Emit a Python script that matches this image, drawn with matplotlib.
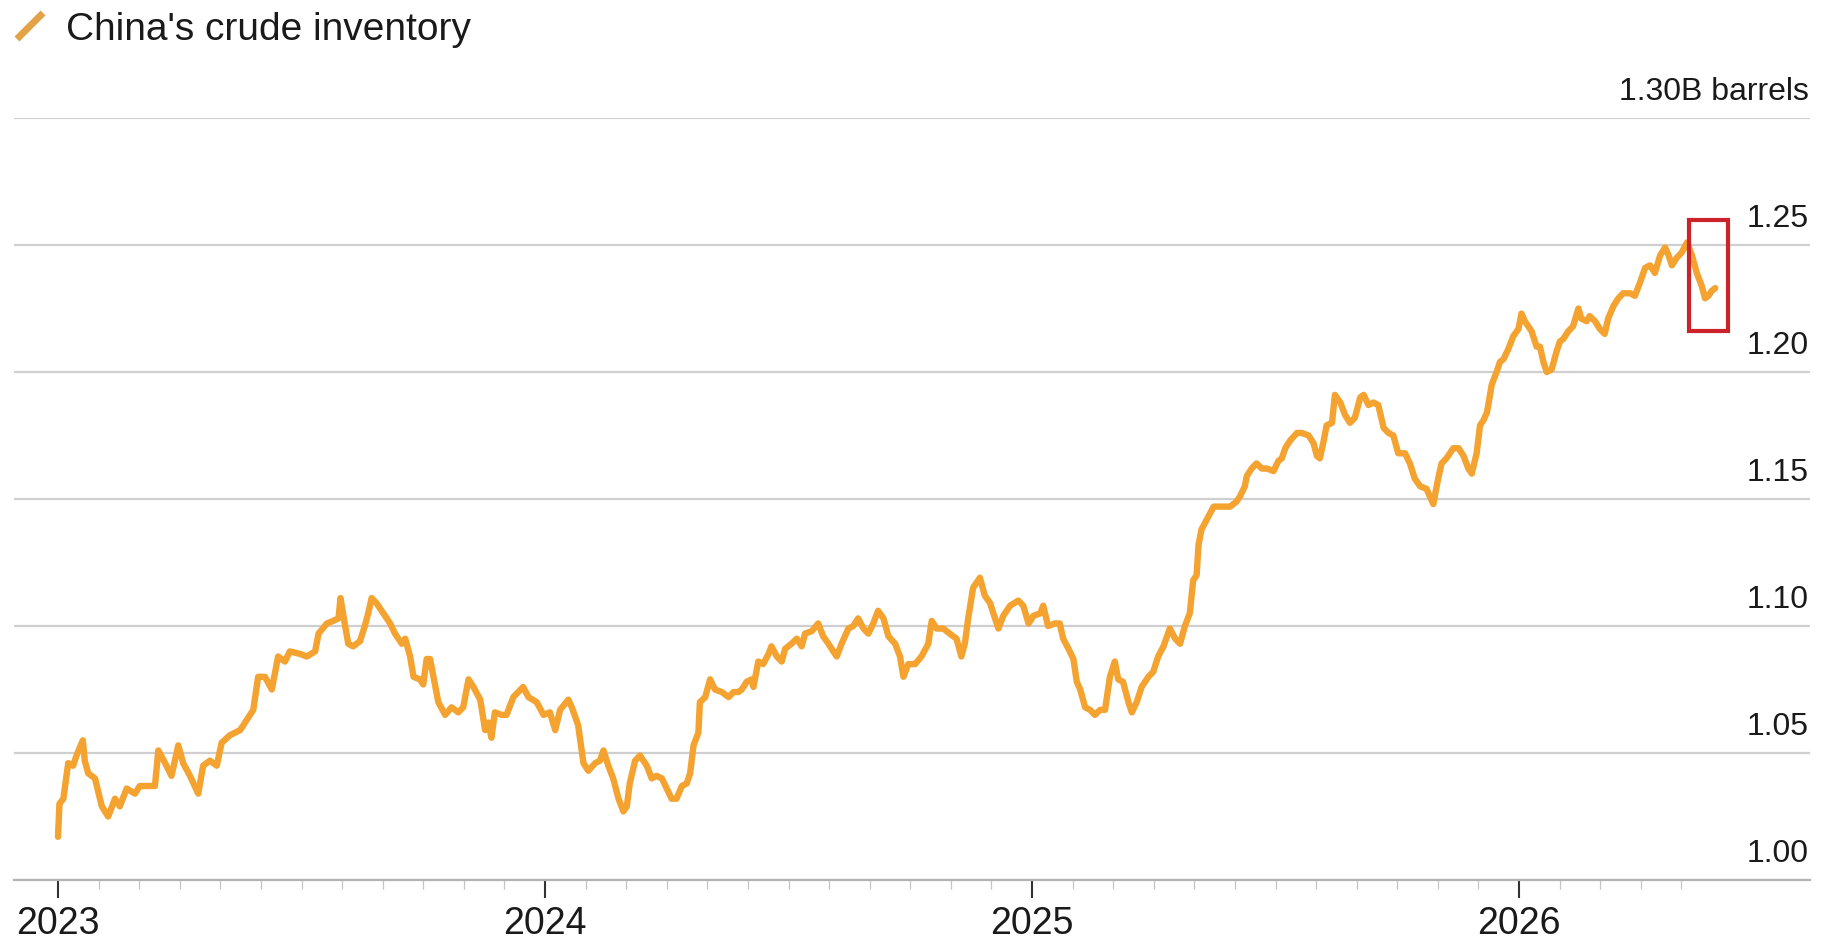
import matplotlib
matplotlib.use("Agg")
import matplotlib.pyplot as plt
from matplotlib.lines import Line2D
from matplotlib.patches import Rectangle
import numpy as np

plt.rcParams['font.family'] = ['Liberation Sans', 'DejaVu Sans']

# China crude inventory, billion barrels, dates as decimal years
t_2023 = [2023.000, 2023.003, 2023.011, 2023.021, 2023.031, 2023.038, 2023.051, 2023.055,
          2023.062, 2023.076, 2023.090, 2023.103, 2023.117, 2023.127, 2023.141, 2023.158,
          2023.168, 2023.185, 2023.199, 2023.206, 2023.220, 2023.233, 2023.247, 2023.257,
          2023.271, 2023.288, 2023.298, 2023.312, 2023.326, 2023.336, 2023.353, 2023.374,
          2023.391, 2023.401, 2023.411, 2023.425, 2023.439, 2023.452, 2023.466, 2023.476,
          2023.497, 2023.511, 2023.528, 2023.535, 2023.552, 2023.565, 2023.576, 2023.580,
          2023.587, 2023.596, 2023.606, 2023.620, 2023.630, 2023.637, 2023.644, 2023.654,
          2023.668, 2023.682, 2023.692, 2023.706, 2023.713, 2023.723, 2023.730, 2023.743,
          2023.750, 2023.757, 2023.764, 2023.771, 2023.781, 2023.795, 2023.808, 2023.822,
          2023.832, 2023.843, 2023.853, 2023.867, 2023.877, 2023.884, 2023.890, 2023.897,
          2023.911, 2023.921, 2023.935, 2023.955, 2023.966, 2023.983, 2023.997]
v_2023 = [1.017, 1.030, 1.032, 1.046, 1.045, 1.049, 1.055, 1.047,
          1.042, 1.040, 1.029, 1.025, 1.032, 1.029, 1.036, 1.034,
          1.037, 1.037, 1.037, 1.051, 1.046, 1.041, 1.053, 1.046,
          1.041, 1.034, 1.045, 1.047, 1.045, 1.054, 1.057, 1.059,
          1.064, 1.067, 1.080, 1.080, 1.075, 1.088, 1.086, 1.090,
          1.089, 1.088, 1.090, 1.097, 1.101, 1.102, 1.103, 1.111,
          1.103, 1.093, 1.092, 1.094, 1.100, 1.105, 1.111, 1.109,
          1.105, 1.101, 1.097, 1.093, 1.095, 1.088, 1.080, 1.079,
          1.077, 1.087, 1.087, 1.080, 1.070, 1.065, 1.068, 1.066,
          1.068, 1.079, 1.076, 1.071, 1.059, 1.062, 1.056, 1.066,
          1.065, 1.065, 1.072, 1.076, 1.072, 1.070, 1.065]

t_2024 = [2024.010, 2024.021, 2024.031, 2024.048, 2024.055, 2024.068, 2024.079, 2024.089,
          2024.103, 2024.113, 2024.120, 2024.130, 2024.140, 2024.151, 2024.161, 2024.168,
          2024.174, 2024.185, 2024.195, 2024.209, 2024.219, 2024.229, 2024.240, 2024.250,
          2024.260, 2024.270, 2024.281, 2024.291, 2024.298, 2024.305, 2024.315, 2024.318,
          2024.329, 2024.339, 2024.349, 2024.363, 2024.377, 2024.387, 2024.397, 2024.404,
          2024.414, 2024.424, 2024.428, 2024.438, 2024.448, 2024.459, 2024.465, 2024.476,
          2024.486, 2024.493, 2024.506, 2024.517, 2024.527, 2024.534, 2024.548, 2024.561,
          2024.571, 2024.582, 2024.592, 2024.599, 2024.609, 2024.623, 2024.633, 2024.643,
          2024.654, 2024.664, 2024.674, 2024.684, 2024.695, 2024.705, 2024.719, 2024.729,
          2024.736, 2024.746, 2024.760, 2024.773, 2024.787, 2024.794, 2024.804, 2024.818,
          2024.831, 2024.845, 2024.855, 2024.862, 2024.869, 2024.879, 2024.893, 2024.903,
          2024.914, 2024.924, 2024.931, 2024.941, 2024.955, 2024.972, 2024.982, 2024.993]
v_2024 = [1.066, 1.059, 1.067, 1.071, 1.068, 1.061, 1.046, 1.043,
          1.046, 1.047, 1.051, 1.045, 1.040, 1.032, 1.027, 1.029,
          1.038, 1.047, 1.049, 1.045, 1.040, 1.041, 1.040, 1.036,
          1.032, 1.032, 1.037, 1.038, 1.042, 1.053, 1.058, 1.070,
          1.072, 1.079, 1.075, 1.074, 1.072, 1.074, 1.074, 1.075,
          1.078, 1.079, 1.076, 1.086, 1.085, 1.089, 1.092, 1.088,
          1.086, 1.091, 1.093, 1.095, 1.092, 1.097, 1.098, 1.101,
          1.096, 1.093, 1.090, 1.088, 1.093, 1.099, 1.100, 1.103,
          1.099, 1.097, 1.101, 1.106, 1.103, 1.096, 1.093, 1.088,
          1.080, 1.085, 1.085, 1.088, 1.093, 1.102, 1.099, 1.099,
          1.097, 1.095, 1.088, 1.093, 1.103, 1.115, 1.119, 1.112,
          1.109, 1.103, 1.099, 1.104, 1.108, 1.110, 1.108, 1.101]

t_2025 = [2025.003, 2025.017, 2025.023, 2025.033, 2025.047, 2025.057, 2025.064, 2025.075,
          2025.085, 2025.092, 2025.099, 2025.109, 2025.119, 2025.129, 2025.140, 2025.150,
          2025.160, 2025.170, 2025.177, 2025.187, 2025.198, 2025.205, 2025.215, 2025.225,
          2025.239, 2025.249, 2025.259, 2025.270, 2025.283, 2025.294, 2025.304, 2025.314,
          2025.324, 2025.331, 2025.338, 2025.342, 2025.348, 2025.359, 2025.373, 2025.383,
          2025.393, 2025.407, 2025.420, 2025.427, 2025.437, 2025.441, 2025.451, 2025.461,
          2025.472, 2025.482, 2025.496, 2025.506, 2025.513, 2025.520, 2025.530, 2025.544,
          2025.554, 2025.568, 2025.578, 2025.585, 2025.591, 2025.598, 2025.605, 2025.616,
          2025.622, 2025.633, 2025.643, 2025.653, 2025.663, 2025.674, 2025.681, 2025.691,
          2025.701, 2025.711, 2025.722, 2025.732, 2025.742, 2025.752, 2025.766, 2025.776,
          2025.786, 2025.797, 2025.810, 2025.824, 2025.834, 2025.841, 2025.851, 2025.865,
          2025.876, 2025.886, 2025.896, 2025.903, 2025.913, 2025.920, 2025.927, 2025.934,
          2025.937, 2025.944, 2025.954, 2025.961, 2025.968, 2025.978, 2025.988, 2025.999]
v_2025 = [1.104, 1.105, 1.108, 1.100, 1.101, 1.101, 1.095, 1.091,
          1.087, 1.078, 1.075, 1.068, 1.067, 1.065, 1.067, 1.067,
          1.080, 1.086, 1.079, 1.078, 1.070, 1.066, 1.070, 1.076,
          1.080, 1.082, 1.088, 1.092, 1.099, 1.095, 1.093, 1.100,
          1.105, 1.118, 1.120, 1.132, 1.138, 1.142, 1.147, 1.147,
          1.147, 1.147, 1.149, 1.151, 1.155, 1.159, 1.162, 1.164,
          1.162, 1.162, 1.161, 1.165, 1.166, 1.170, 1.173, 1.176,
          1.176, 1.175, 1.172, 1.167, 1.166, 1.172, 1.179, 1.180,
          1.191, 1.188, 1.183, 1.180, 1.182, 1.190, 1.191, 1.187,
          1.188, 1.187, 1.178, 1.176, 1.175, 1.168, 1.168, 1.164,
          1.158, 1.155, 1.154, 1.148, 1.158, 1.164, 1.166, 1.170,
          1.170, 1.167, 1.162, 1.160, 1.168, 1.179, 1.181, 1.184,
          1.187, 1.195, 1.200, 1.204, 1.205, 1.209, 1.214, 1.217]

t_2026 = [2026.005, 2026.012, 2026.019, 2026.026, 2026.036, 2026.043, 2026.050, 2026.057,
          2026.067, 2026.077, 2026.084, 2026.091, 2026.101, 2026.111, 2026.122, 2026.128,
          2026.139, 2026.145, 2026.156, 2026.166, 2026.176, 2026.183, 2026.194, 2026.204,
          2026.214, 2026.228, 2026.238, 2026.248, 2026.259, 2026.269, 2026.279, 2026.290,
          2026.300, 2026.307, 2026.314, 2026.324, 2026.334, 2026.345, 2026.355, 2026.365,
          2026.375, 2026.382, 2026.389, 2026.396, 2026.403]
v_2026 = [1.223, 1.220, 1.218, 1.216, 1.210, 1.210, 1.204, 1.200,
          1.201, 1.208, 1.212, 1.213, 1.216, 1.218, 1.225, 1.221,
          1.220, 1.222, 1.220, 1.217, 1.215, 1.221, 1.226, 1.229,
          1.231, 1.231, 1.230, 1.235, 1.241, 1.242, 1.239, 1.246,
          1.249, 1.246, 1.242, 1.245, 1.247, 1.251, 1.246, 1.239,
          1.234, 1.229, 1.230, 1.232, 1.233]

levels = [1.00, 1.05, 1.10, 1.15, 1.20, 1.25, 1.30]
level_labels = ['1.00', '1.05', '1.10', '1.15', '1.20', '1.25', '1.30B barrels']
years = [2023, 2024, 2025, 2026]

# highlighted window around the latest readings
box_t = (2026.349, 2026.429)
box_v = (1.2163, 1.2597)

dates = np.array(t_2023 + t_2024 + t_2025 + t_2026)
stock = np.array(v_2023 + v_2024 + v_2025 + v_2026)

W, H = 1836, 939
fig = plt.figure(figsize=(W / 100, H / 100), dpi=100)
ax = fig.add_axes([14 / W, 1 - 880 / H, (1810 - 14) / W, (880 - 118) / H])

ax.set_xlim(2023 - 44 / 487, 2023 + 1752 / 487)
ax.set_ylim(1.0, 1.30)

for s in ['top', 'right', 'left']:
    ax.spines[s].set_visible(False)
ax.spines['bottom'].set_color('#b3b3b3')
ax.spines['bottom'].set_linewidth(1.6)

ax.set_yticks(levels)
ax.yaxis.grid(True, color='#cfcfcf', linewidth=1.6)
ax.tick_params(axis='y', length=0, labelleft=False)
ax.set_axisbelow(True)

for lv, lab in zip(levels, level_labels):
    ax.annotate(lab, xy=(1, lv), xycoords=('axes fraction', 'data'),
                xytext=(-1, 18), textcoords='offset pixels',
                ha='right', va='baseline', fontsize=23, color='#1a1a1a')

months = [y + m / 12 for y in years for m in range(1, 12)]
months = [m for m in months if m < 2026 + 4.5 / 12]
ax.set_xticks(years)
ax.set_xticklabels([str(y) for y in years])
ax.set_xticks(months, minor=True)
ax.tick_params(axis='x', which='major', length=13, width=1.5, color='#333333',
               labelsize=27, pad=6, labelcolor='#1a1a1a')
ax.tick_params(axis='x', which='minor', length=6.5, width=0.9, color='#c4c4c4')

ax.plot(dates, stock, color='#f4a230', lw=4.6, solid_joinstyle='round',
        solid_capstyle='round', zorder=3)

ax.add_patch(Rectangle((box_t[0], box_v[0]), box_t[1] - box_t[0], box_v[1] - box_v[0],
                       fill=False, edgecolor='#cc2229', lw=3, zorder=4))

# legend key
fig.add_artist(Line2D([17 / W, 43 / W], [1 - 39 / H, 1 - 13 / H], transform=fig.transFigure,
                      color='#e2a245', lw=5, solid_capstyle='butt'))
fig.text(66 / W, 1 - 40 / H, "China's crude inventory", fontsize=28, va='baseline',
         color='#1a1a1a')

fig.savefig('out.png', dpi=100)
